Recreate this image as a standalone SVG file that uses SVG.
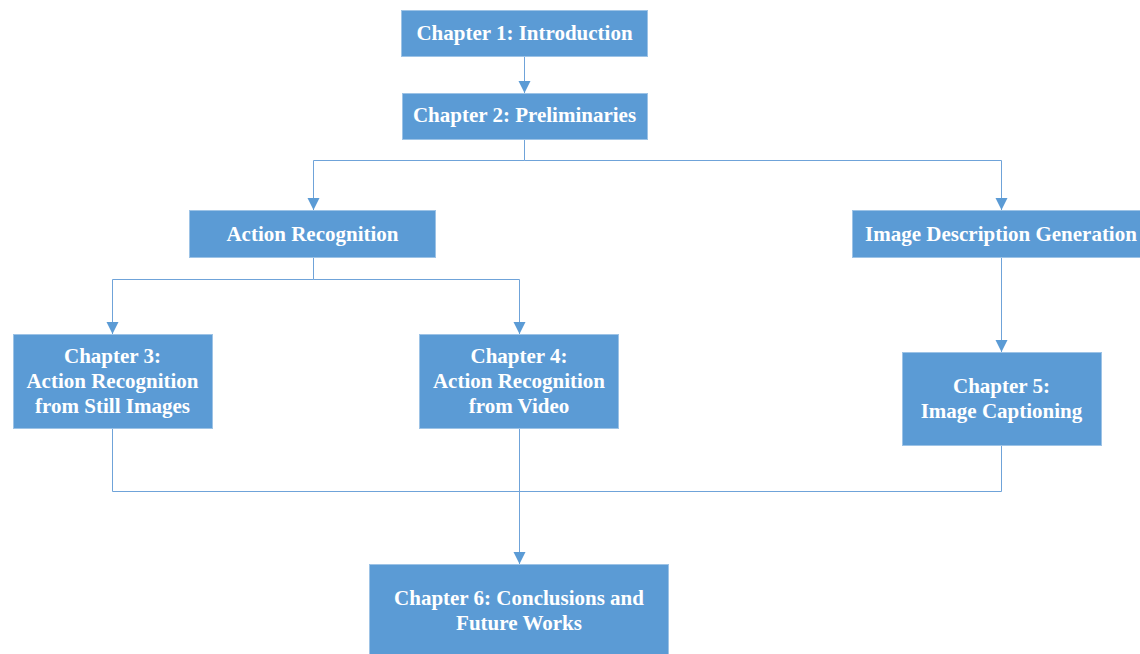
<svg xmlns="http://www.w3.org/2000/svg" width="1140" height="654" viewBox="0 0 1140 654">
  <defs>
    <marker id="arrow" markerWidth="13" markerHeight="13" refX="12" refY="6" orient="auto" markerUnits="userSpaceOnUse">
      <path d="M0,0 L12,6 L0,12 Z" fill="#5B9BD5"/>
    </marker>
    <style>
      .box { fill: #5B9BD5; stroke: #9DC3E6; stroke-width: 1; }
      .label { font-family: "Liberation Serif", "Times New Roman", serif; font-weight: bold; font-size: 21px; fill: #FFFFFF; text-anchor: middle; }
      .wire { fill: none; stroke: #6FA3D9; stroke-width: 1; }
    </style>
  </defs>
  <rect width="1140" height="654" fill="#FFFFFF"/>

  <g id="connectors">
    <path class="wire" d="M524.5,56 V93" marker-end="url(#arrow)"/>
    <path class="wire" d="M524.5,139 V160.5 H313.5 V210" marker-end="url(#arrow)"/>
    <path class="wire" d="M524.5,160.5 H1001.5 V210" marker-end="url(#arrow)"/>
    <path class="wire" d="M313.5,257 V279.5 H112.5 V334" marker-end="url(#arrow)"/>
    <path class="wire" d="M313.5,279.5 H519.5 V334" marker-end="url(#arrow)"/>
    <path class="wire" d="M1001.5,257 V352" marker-end="url(#arrow)"/>
    <path class="wire" d="M112.5,428 V491.5 H1001.5 V445"/>
    <path class="wire" d="M519.5,428 V564" marker-end="url(#arrow)"/>
  </g>

  <g id="ch1">
    <rect class="box" x="401.5" y="10.5" width="246" height="46"/>
    <text class="label" x="524.5" y="40">Chapter 1: Introduction</text>
  </g>
  <g id="ch2">
    <rect class="box" x="402.5" y="93.5" width="245" height="46"/>
    <text class="label" x="524.5" y="122">Chapter 2: Preliminaries</text>
  </g>
  <g id="action-recognition">
    <rect class="box" x="189.5" y="210.5" width="246" height="47"/>
    <text class="label" x="312.5" y="241">Action Recognition</text>
  </g>
  <g id="image-description">
    <rect class="box" x="852.5" y="210.5" width="292" height="47"/>
    <text class="label" x="1001" y="241">Image Description Generation</text>
  </g>
  <g id="ch3">
    <rect class="box" x="13.5" y="334.5" width="199" height="94"/>
    <text class="label" x="112.5" y="363">Chapter 3:</text>
    <text class="label" x="112.5" y="388">Action Recognition</text>
    <text class="label" x="112.5" y="413">from Still Images</text>
  </g>
  <g id="ch4">
    <rect class="box" x="419.5" y="334.5" width="199" height="94"/>
    <text class="label" x="519" y="363">Chapter 4:</text>
    <text class="label" x="519" y="388">Action Recognition</text>
    <text class="label" x="519" y="413">from Video</text>
  </g>
  <g id="ch5">
    <rect class="box" x="902.5" y="352.5" width="199" height="93"/>
    <text class="label" x="1001.5" y="393">Chapter 5:</text>
    <text class="label" x="1001.5" y="418">Image Captioning</text>
  </g>
  <g id="ch6">
    <rect class="box" x="369.5" y="564.5" width="299" height="95"/>
    <text class="label" x="519" y="605">Chapter 6: Conclusions and</text>
    <text class="label" x="519" y="630">Future Works</text>
  </g>
</svg>
